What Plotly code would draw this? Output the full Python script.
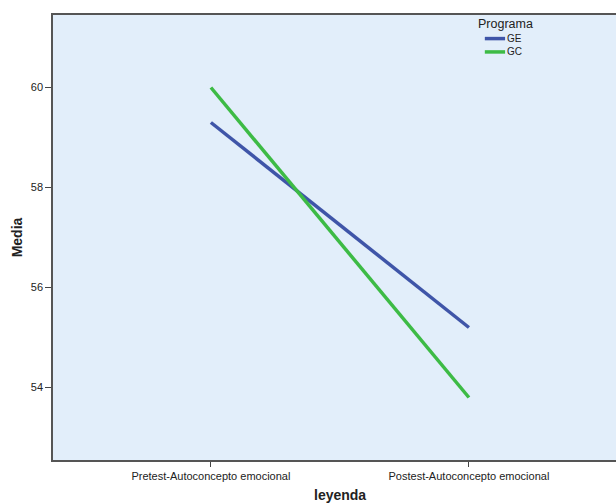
import plotly.graph_objects as go

# Means per measurement occasion and programme group
momentos = ["Pretest-Autoconcepto emocional", "Postest-Autoconcepto emocional"]
grupos = ["GE", "GC"]
media_ge = [59.3, 55.2]
media_gc = [60.0, 53.8]
colores = ["#3F55A8", "#3DBB45"]
y_ticks = [54, 56, 58, 60]

font = "Liberation Sans, Arial, sans-serif"

fig = go.Figure()
for nombre, valores, color in zip(grupos, [media_ge, media_gc], colores):
    fig.add_trace(go.Scatter(x=[0, 1], y=valores, mode="lines", name=nombre,
                             line=dict(color=color, width=3.5),
                             showlegend=False))

# Compact legend block in the upper right of the plot area
fig.add_annotation(text="Programa", xref="paper", yref="paper",
                   x=0.751, y=0.980, xanchor="left", yanchor="middle",
                   showarrow=False, font=dict(size=12.5, family=font, color="#222222"))
legend_y = [0.947, 0.917]
for nombre, color, ly in zip(grupos, colores, legend_y):
    fig.add_shape(type="line", xref="paper", yref="paper",
                  x0=0.767, x1=0.803, y0=ly, y1=ly,
                  line=dict(color=color, width=3.5))
    fig.add_annotation(text=nombre, xref="paper", yref="paper",
                       x=0.803, y=ly, xanchor="left", yanchor="middle",
                       showarrow=False,
                       font=dict(size=10, family=font, color="#222222"))

# Horizontal axis title centred on the full category span
fig.add_annotation(text="<b>leyenda</b>", xref="paper", yref="paper",
                   x=0.51, y=-0.079, xanchor="center", yanchor="middle",
                   showarrow=False, font=dict(size=14, family=font, color="#222222"))

fig.update_layout(
    width=616, height=504,
    margin=dict(l=53, r=0, t=15, b=44),
    paper_bgcolor="white",
    plot_bgcolor="#E2EEFA",
    font=dict(family=font, size=11, color="#222222"),
    showlegend=False,
    xaxis=dict(
        range=[-0.612, 1.570],
        tickmode="array", tickvals=[0, 1], ticktext=momentos,
        ticks="outside", ticklen=5, tickcolor="#444444",
        tickfont=dict(size=11),
        showgrid=False, zeroline=False,
        showline=True, linecolor="#555555", linewidth=1.5, mirror=True,
    ),
    yaxis=dict(
        range=[52.55, 61.45],
        tickmode="array", tickvals=y_ticks,
        ticks="outside", ticklen=6, tickcolor="#444444",
        tickfont=dict(size=11),
        showgrid=False, zeroline=False,
        showline=True, linecolor="#555555", linewidth=1.5,
        title=dict(text="<b>Media</b>", font=dict(size=14), standoff=5),
    ),
)

fig.write_html("out.html")
